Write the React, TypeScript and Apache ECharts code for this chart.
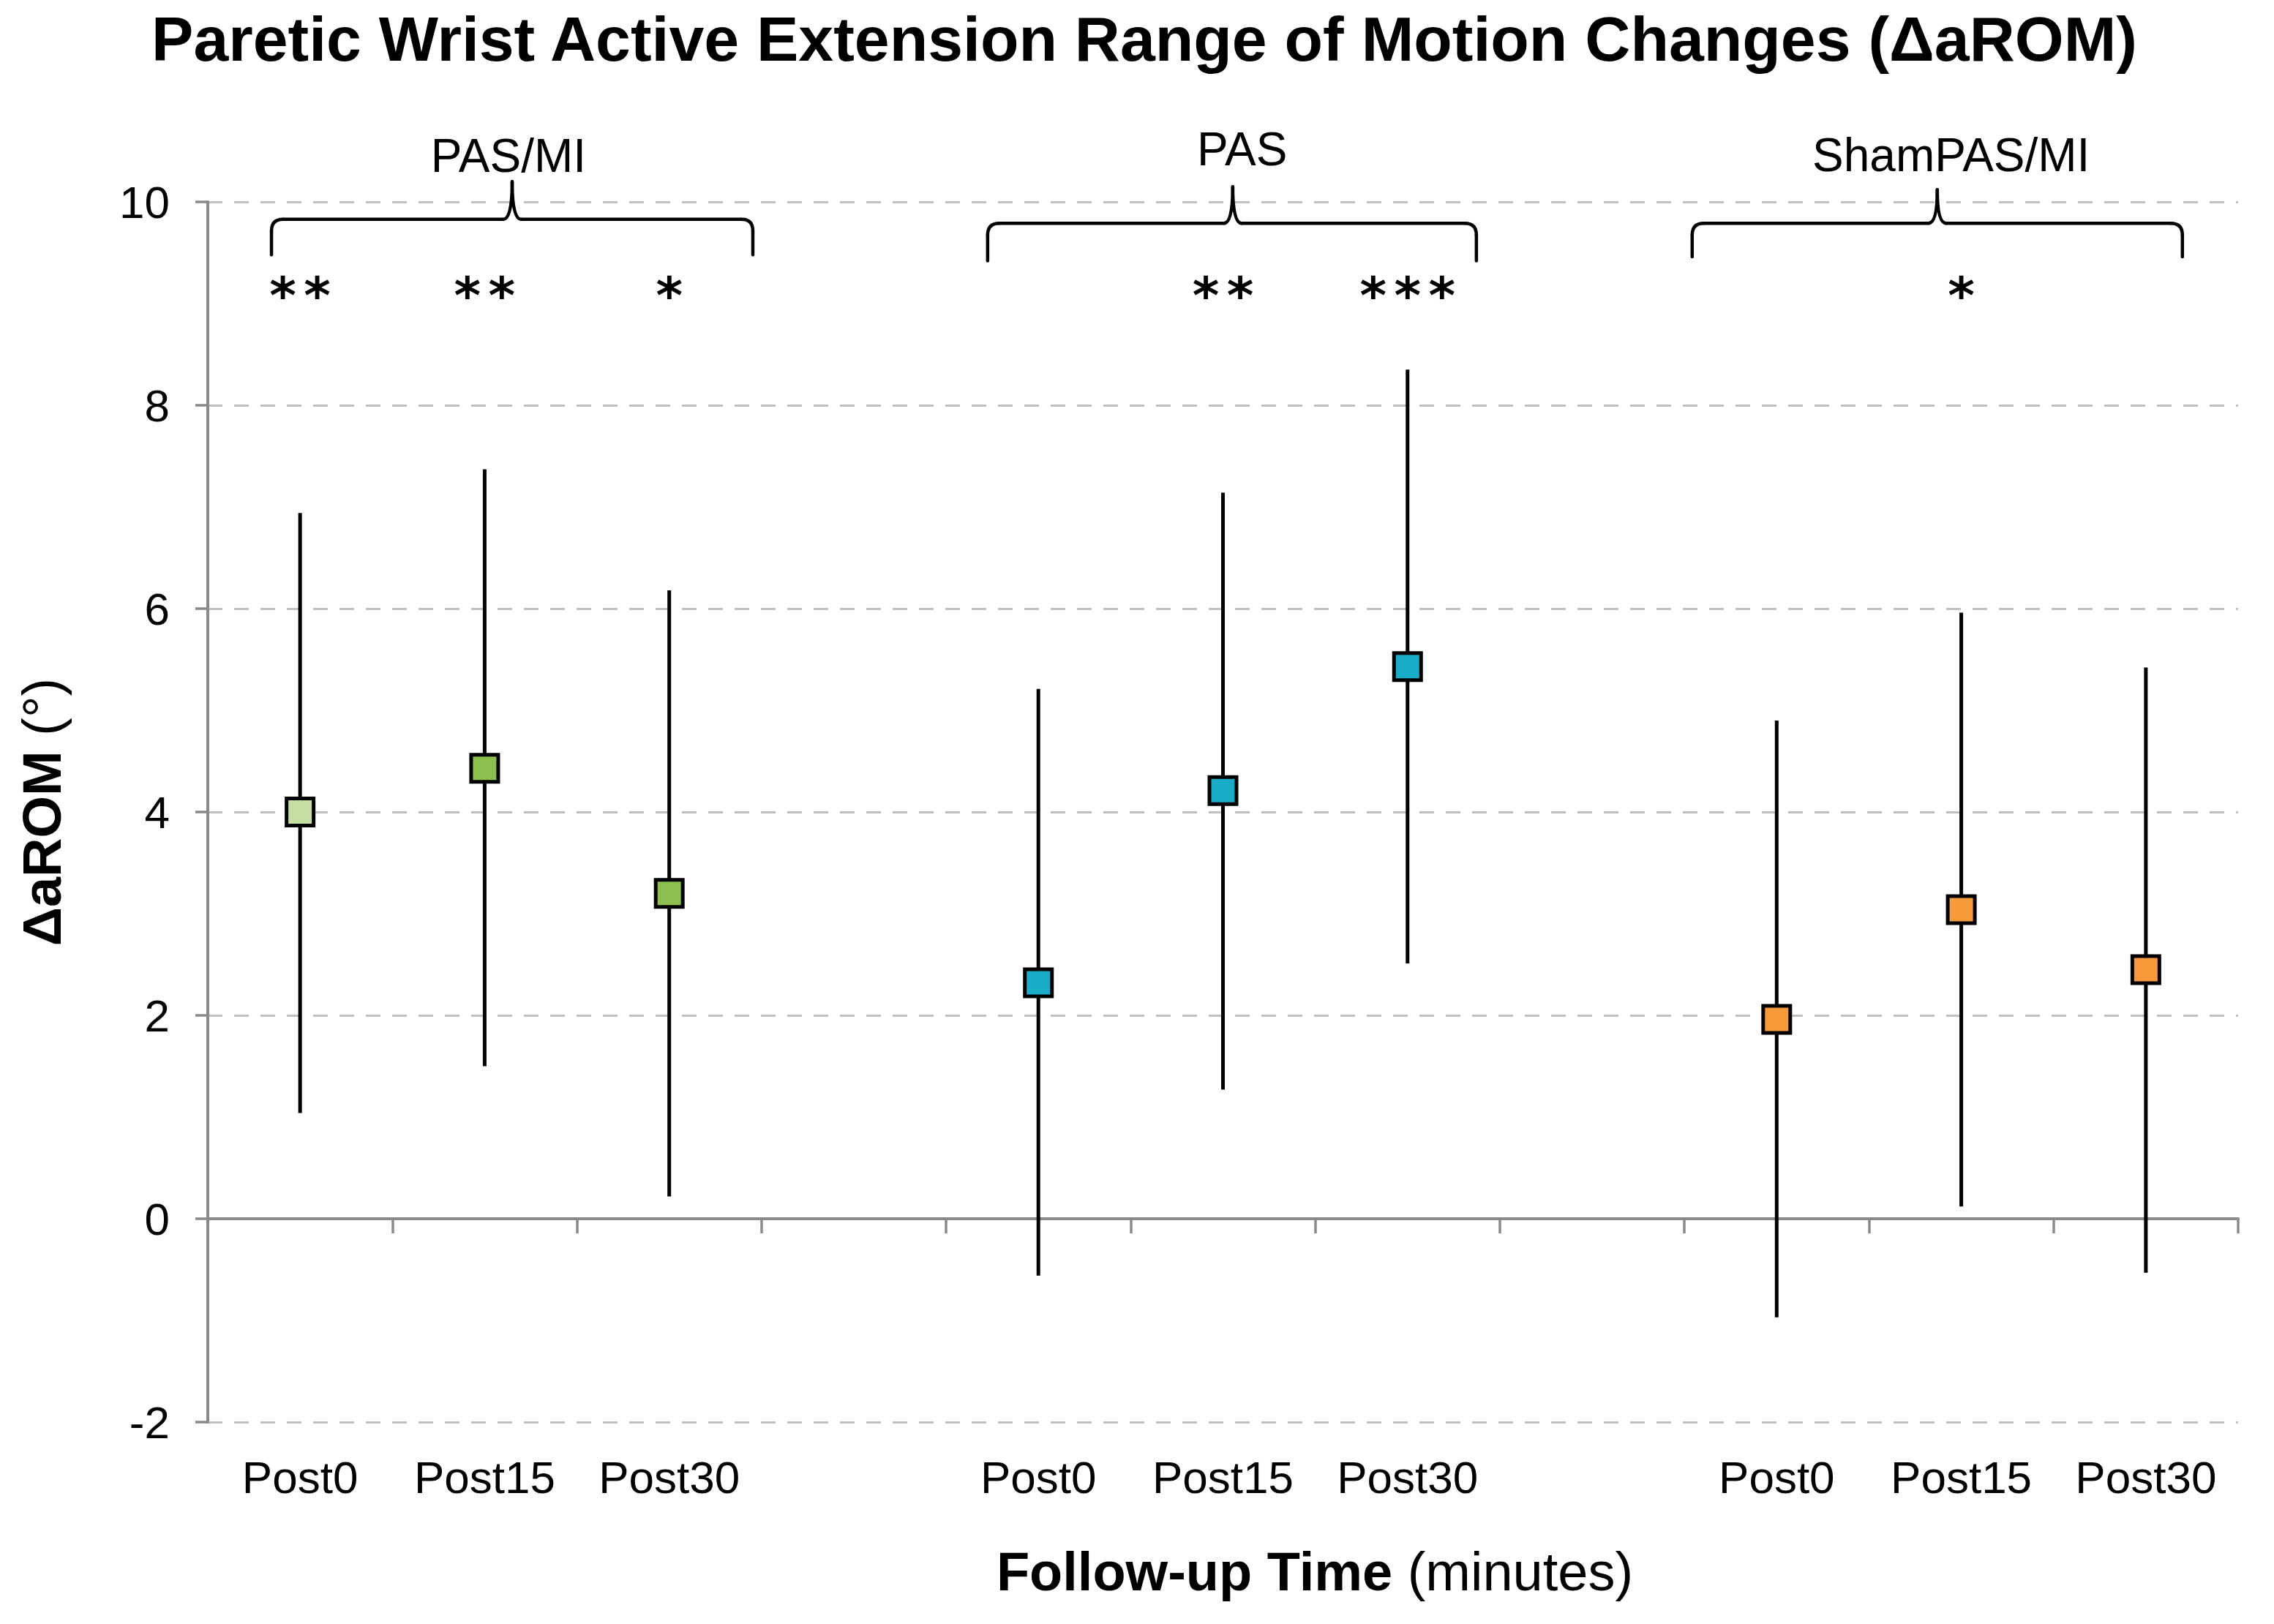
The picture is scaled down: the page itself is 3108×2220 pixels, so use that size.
import React, { useEffect, useRef } from 'react';
import * as echarts from 'echarts';

// ---- data ----
const groups = ['PAS/MI', 'PAS', 'ShamPAS/MI'];
const timepoints = ['Post0', 'Post15', 'Post30'];
// 3 slots per group, an empty spacer slot between groups
const categories = [
  'PAS/MI|Post0', 'PAS/MI|Post15', 'PAS/MI|Post30', 'gap1',
  'PAS|Post0', 'PAS|Post15', 'PAS|Post30', 'gap2',
  'ShamPAS/MI|Post0', 'ShamPAS/MI|Post15', 'ShamPAS/MI|Post30',
];

const pasmiMean = [4.0, 4.43, 3.2];
const pasmiLow = [1.04, 1.5, 0.22];
const pasmiHigh = [6.94, 7.37, 6.18];

const pasMean = [2.32, 4.21, 5.43];
const pasLow = [-0.56, 1.27, 2.51];
const pasHigh = [5.21, 7.14, 8.35];

const shamMean = [1.96, 3.04, 2.45];
const shamLow = [-0.97, 0.12, -0.53];
const shamHigh = [4.9, 5.96, 5.42];

const pasmiSig = ['**', '**', '*'];
const pasSig = ['', '**', '***'];
const shamSig = ['', '*', ''];

// annotation geometry (in axis units: slot index / degrees)
const braceSpans = [
  [-0.155, 1.149, 2.453],
  [3.725, 5.053, 6.373],
  [7.542, 8.87, 10.198],
];
const braceLevels = [
  [9.83, 9.48, 10.2],
  [9.79, 9.42, 10.15],
  [9.79, 9.46, 10.12],
];
const groupLabelPos = [
  [1.129, 10.45],
  [5.104, 10.52],
  [8.945, 10.46],
];
const sigLevel = 9.08;

// ---- styles ----
const FONT = '"Liberation Sans", Arial, Helvetica, sans-serif';
const AXIS = '#8A8A8A';
const GRID = '#C0C0C0';
const pasmiColors = ['#C4DFA0', '#8DBF4F', '#8DBF4F'];
const pasColor = '#1AABC8';
const shamColor = '#F79A3C';
const STAR_PITCH = 47;

export default function App() {
  const ref = useRef<HTMLDivElement>(null);

  useEffect(() => {
    if (!ref.current) return;
    const chart = echarts.init(ref.current, null, { renderer: 'svg' });

    const slots = [0, 1, 2, 4, 5, 6, 8, 9, 10];
    const means = [...pasmiMean, ...pasMean, ...shamMean];
    const lows = [...pasmiLow, ...pasLow, ...shamLow];
    const highs = [...pasmiHigh, ...pasHigh, ...shamHigh];
    const fills = [...pasmiColors, pasColor, pasColor, pasColor, shamColor, shamColor, shamColor];
    const sigs = [...pasmiSig, ...pasSig, ...shamSig];

    const errData = slots.map((s, i) => [s, lows[i], highs[i]]);
    const pointData = slots.map((s, i) => ({
      value: [s, means[i]],
      itemStyle: { color: fills[i] },
    }));
    const sigItems = slots
      .map((s, i) => ({ s, t: sigs[i] }))
      .filter((d) => d.t);
    const sigData = sigItems.map((d) => [d.s, sigLevel]);

    const lineStyle = { stroke: '#000', lineWidth: 4.5, lineCap: 'round' as const, fill: 'none' };

    const option: any = {
      animation: false,
      backgroundColor: '#ffffff',
      grid: { left: 284, right: 49, top: 276, bottom: 276, containLabel: false },
      xAxis: [
        {
          type: 'category',
          data: categories,
          position: 'bottom',
          boundaryGap: true,
          axisLine: { show: true, onZero: true, lineStyle: { color: AXIS, width: 4 } },
          axisTick: { show: true, interval: 0, length: 20, lineStyle: { color: AXIS, width: 3.5 } },
          axisLabel: { show: false },
          splitLine: { show: false },
        },
        {
          type: 'category',
          data: categories,
          position: 'bottom',
          boundaryGap: true,
          axisLine: { show: false, onZero: false },
          axisTick: { show: false },
          splitLine: { show: false },
          axisLabel: {
            show: true,
            interval: 0,
            margin: 44,
            fontSize: 62,
            fontFamily: FONT,
            color: '#000',
            formatter: (v: string) => v.split('|')[1] || '',
          },
        },
        {
          type: 'value',
          min: -0.5,
          max: 10.5,
          show: false,
          position: 'bottom',
          axisLine: { onZero: false },
          splitLine: { show: false },
        },
      ],
      yAxis: {
        type: 'value',
        min: -2,
        max: 10,
        interval: 2,
        axisLine: { show: true, onZero: false, lineStyle: { color: AXIS, width: 4 } },
        axisTick: { show: true, length: 17, lineStyle: { color: AXIS, width: 3.5 } },
        axisLabel: { margin: 52, fontSize: 62, fontFamily: FONT, color: '#000' },
        splitLine: { show: true, lineStyle: { color: GRID, width: 3, type: [20, 16] } },
        name: '{b|ΔaROM} {n|(°)}',
        nameLocation: 'middle',
        nameRotate: 90,
        nameGap: 190,
        nameTextStyle: {
          fontFamily: FONT,
          fontSize: 74,
          color: '#000',
          rich: {
            b: { fontWeight: 'bold', fontSize: 74, fontFamily: FONT, color: '#000' },
            n: { fontWeight: 'normal', fontSize: 74, fontFamily: FONT, color: '#000' },
          },
        },
      },
      series: [
        {
          name: 'errorbars',
          type: 'custom',
          xAxisIndex: 0,
          yAxisIndex: 0,
          z: 2,
          data: errData,
          renderItem: (params: any, api: any) => {
            const x = api.value(0);
            const lo = api.coord([x, api.value(1)]);
            const hi = api.coord([x, api.value(2)]);
            return {
              type: 'line',
              shape: { x1: lo[0], y1: lo[1], x2: hi[0], y2: hi[1] },
              style: { stroke: '#000', lineWidth: 5 },
            };
          },
        },
        {
          name: 'means',
          type: 'scatter',
          xAxisIndex: 0,
          yAxisIndex: 0,
          z: 3,
          symbol: 'rect',
          symbolSize: 37,
          itemStyle: { borderColor: '#000', borderWidth: 5, opacity: 1 },
          data: pointData,
        },
        {
          name: 'braces',
          type: 'custom',
          xAxisIndex: 2,
          yAxisIndex: 0,
          z: 4,
          clip: false,
          data: braceSpans.map((b, i) => [b[1], braceLevels[i][2]]),
          renderItem: (params: any, api: any) => {
            const i = params.dataIndex;
            const [l, m, r] = braceSpans[i];
            const [yh, ye, yt] = braceLevels[i];
            const L = api.coord([l, ye]);
            const H = api.coord([l, yh]);
            const M = api.coord([m, yt]);
            const R = api.coord([r, ye]);
            const hy = H[1];
            const rr = 16;
            const r2 = 12;
            const lp = api.coord(groupLabelPos[i]);
            const children: any[] = [
              { type: 'line', shape: { x1: L[0], y1: L[1], x2: L[0], y2: hy + rr }, style: lineStyle },
              { type: 'bezierCurve', shape: { x1: L[0], y1: hy + rr, cpx1: L[0], cpy1: hy, x2: L[0] + rr, y2: hy }, style: lineStyle },
              { type: 'line', shape: { x1: L[0] + rr, y1: hy, x2: M[0] - r2, y2: hy }, style: lineStyle },
              { type: 'bezierCurve', shape: { x1: M[0] - r2, y1: hy, cpx1: M[0], cpy1: hy, x2: M[0], y2: M[1] }, style: lineStyle },
              { type: 'bezierCurve', shape: { x1: M[0], y1: M[1], cpx1: M[0], cpy1: hy, x2: M[0] + r2, y2: hy }, style: lineStyle },
              { type: 'line', shape: { x1: M[0] + r2, y1: hy, x2: R[0] - rr, y2: hy }, style: lineStyle },
              { type: 'bezierCurve', shape: { x1: R[0] - rr, y1: hy, cpx1: R[0], cpy1: hy, x2: R[0], y2: hy + rr }, style: lineStyle },
              { type: 'line', shape: { x1: R[0], y1: hy + rr, x2: R[0], y2: R[1] }, style: lineStyle },
              {
                type: 'text',
                x: lp[0],
                y: lp[1],
                style: {
                  text: groups[i],
                  fill: '#000',
                  fontSize: 64,
                  fontFamily: FONT,
                  align: 'center',
                  verticalAlign: 'middle',
                  textAlign: 'center',
                  textVerticalAlign: 'middle',
                },
              },
            ];
            return { type: 'group', children };
          },
        },
        {
          name: 'significance',
          type: 'custom',
          xAxisIndex: 0,
          yAxisIndex: 0,
          z: 4,
          clip: false,
          data: sigData,
          renderItem: (params: any, api: any) => {
            const p = api.coord([api.value(0), api.value(1)]);
            const stars = sigItems[params.dataIndex].t.split('');
            const n = stars.length;
            return {
              type: 'group',
              children: stars.map((st, k) => ({
                type: 'text',
                x: p[0] + (k - (n - 1) / 2) * STAR_PITCH,
                y: p[1],
                style: {
                  text: st,
                  fill: '#000',
                  fontSize: 70,
                  fontWeight: 'bold',
                  fontFamily: '"DejaVu Sans", sans-serif',
                  align: 'center',
                  verticalAlign: 'middle',
                  textAlign: 'center',
                  textVerticalAlign: 'middle',
                },
              })),
            };
          },
        },
      ],
      graphic: [
        {
          type: 'text',
          x: 1564,
          y: 53,
          style: {
            text: 'Paretic Wrist Active Extension Range of Motion Changes (ΔaROM)',
            fill: '#000',
            fontSize: 86,
            fontWeight: 'bold',
            fontFamily: FONT,
            align: 'center',
            verticalAlign: 'middle',
            textAlign: 'center',
            textVerticalAlign: 'middle',
          },
        },
        {
          type: 'text',
          x: 1797,
          y: 2148,
          style: {
            text: '{b|Follow-up Time}{n| (minutes)}',
            fill: '#000',
            fontSize: 74,
            fontFamily: FONT,
            align: 'center',
            verticalAlign: 'middle',
            textAlign: 'center',
            textVerticalAlign: 'middle',
            rich: {
              b: { fontSize: 74, fontWeight: 'bold', fontFamily: FONT, fill: '#000' },
              n: { fontSize: 74, fontWeight: 'normal', fontFamily: FONT, fill: '#000' },
            },
          },
        },
      ],
    };

    chart.setOption(option);
    return () => chart.dispose();
  }, []);

  return (
    <div
      ref={ref}
      style={{ position: 'absolute', left: 0, top: 0, width: 3108, height: 2220, background: '#fff' }}
    />
  );
}
